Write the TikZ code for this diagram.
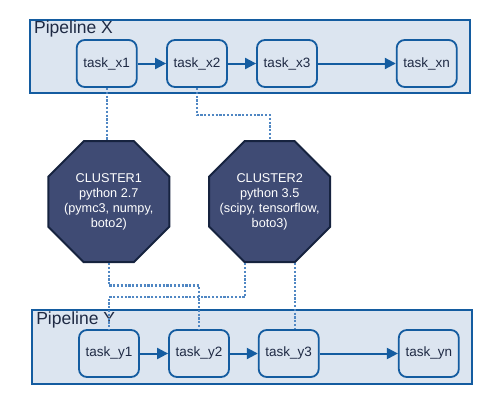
\documentclass[tikz,border=0pt]{standalone}
\usepackage{fontspec}
\setmainfont{Liberation Sans}
\usepackage{tikz}
\usetikzlibrary{shapes.geometric,positioning,calc,arrows.meta}
\usepackage{xcolor}
\definecolor{pipeblue}{RGB}{20, 92, 160}
\definecolor{pipefill}{RGB}{220, 229, 240}
\definecolor{clusterfill}{RGB}{63, 75, 116}
\definecolor{clusterline}{RGB}{22, 35, 63}
\definecolor{linkblue}{RGB}{80, 135, 195}
\definecolor{textnavy}{RGB}{31, 42, 68}

\begin{document}
\begin{tikzpicture}[
    x=1pt, y=-1pt,
    pipeline/.style={rectangle, draw=pipeblue, fill=pipefill, line width=2.2pt},
    title/.style={anchor=north west, inner sep=2pt, text=textnavy, font=\fontsize{17.5}{20}\selectfont},
    task/.style={rectangle, rounded corners=8pt, draw=pipeblue, fill=pipefill, line width=1.8pt,
        minimum width=60pt, minimum height=47pt, inner sep=0pt, text=textnavy,
        font=\fontsize{13.5}{16}\selectfont},
    cluster/.style={regular polygon, regular polygon sides=8, minimum size=131pt, inner sep=-20pt,
        draw=clusterline, fill=clusterfill, line width=2pt, text=white, align=center,
        font=\fontsize{12.7}{15}\selectfont},
    flow/.style={-{Triangle[length=11pt, width=11pt]}, line width=2pt, pipeblue},
    link/.style={linkblue, line width=2.4pt, dash pattern=on 2.2pt off 1.6pt}
]
    \useasboundingbox (0,0) rectangle (492,405);

    % Pipelines
    \node[pipeline, minimum width=440pt, minimum height=73pt] (pipex) at (250,56.5) {};
    \node[title, xshift=3pt] at (pipex.north west) {Pipeline X};
    \node[pipeline, minimum width=440pt, minimum height=74pt] (pipey) at (251.7,347) {};
    \node[title, xshift=3.5pt, yshift=-1pt] at (pipey.north west) {Pipeline Y};

    % Tasks
    \foreach \n/\x in {x1/106.7, x2/197, x3/287, xn/426.7} {
        \node[task] (t\n) at (\x,63.5) {task\_\n};
    }
    \foreach \n/\x in {y1/109, y2/199, y3/288.7, yn/428.8} {
        \node[task] (t\n) at (\x,353.5) {task\_\n};
    }

    % Task order
    \foreach \a/\b in {x1/x2, x2/x3, x3/xn, y1/y2, y2/y3, y3/yn} {
        \draw[flow] (t\a) -- (t\b);
    }

    % Clusters
    \node[cluster] (c1) at (108.8,201.7) {CLUSTER1\\python 2.7\\(pymc3, numpy,\\boto2)};
    \node[cluster] (c2) at (269.7,201.7) {CLUSTER2\\python 3.5\\(scipy, tensorflow,\\boto3)};

    % Cluster links
    \coordinate (c2l) at ($(c2.south)+(-25,0)$);
    \coordinate (c2r) at ($(c2.south)+(25,0)$);
    \draw[link] (tx1.south) -- (tx1.south |- c1.north);
    \draw[link] (tx2.south) -- ++(0,27) -| (c2.north);
    \draw[link] (c1.south) -- ++(0,22.3) -| (ty2.north);
    \draw[link] (c2l) -- ++(0,34) -| (ty1.north);
    \draw[link] (c2r) -- (c2r |- ty3.north);
\end{tikzpicture}
\end{document}
